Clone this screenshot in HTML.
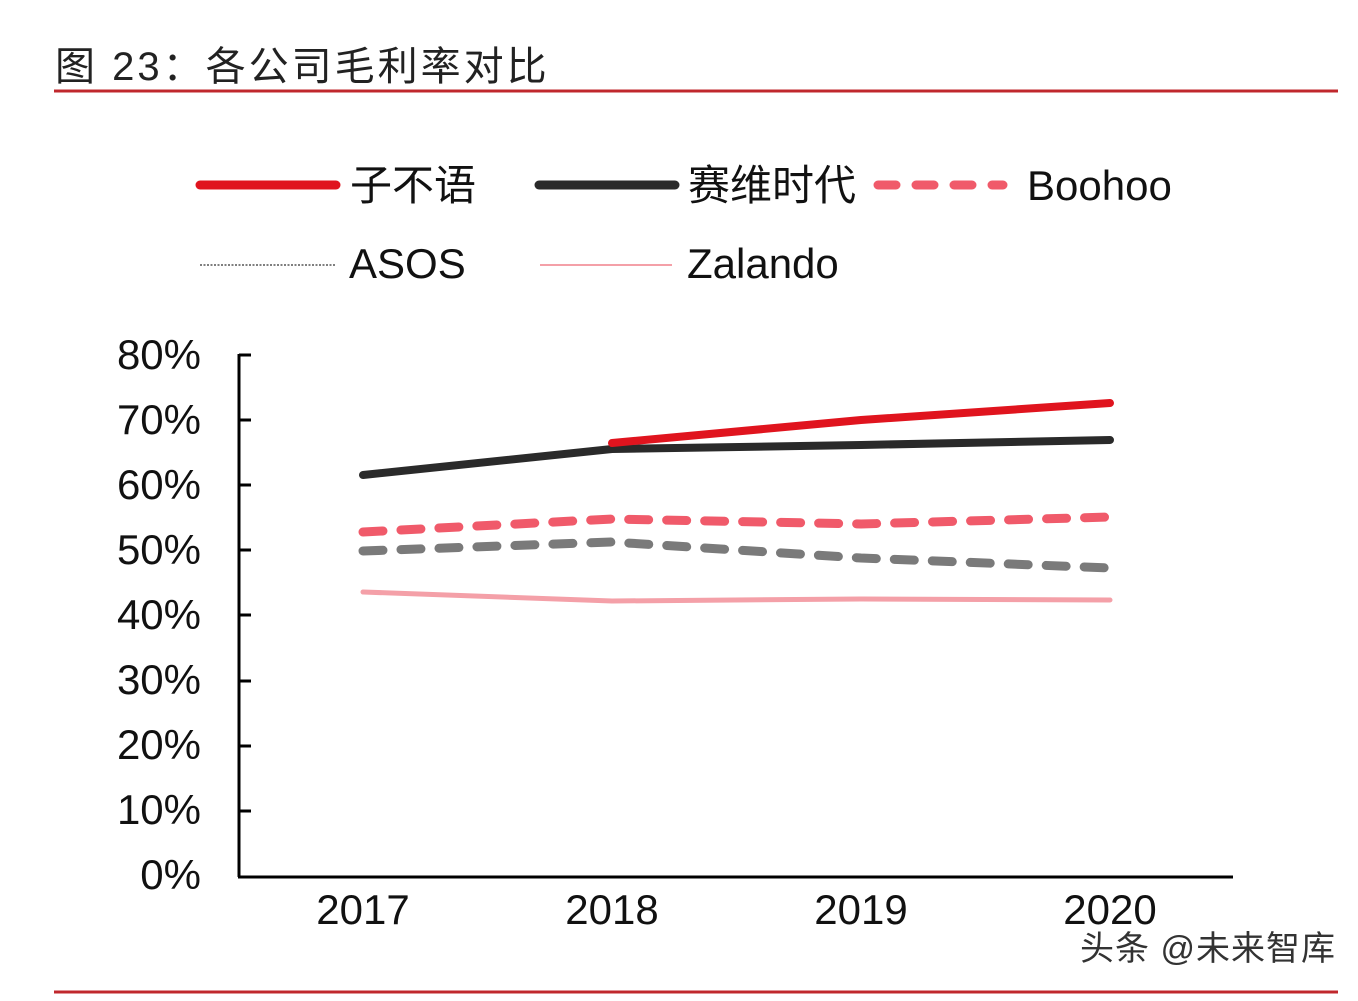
<!DOCTYPE html>
<html><head><meta charset="utf-8"><style>
body{margin:0;background:#fff;}
svg text{font-family:"Liberation Sans","Noto Sans CJK SC",sans-serif;}
</style></head><body>
<svg width="1358" height="996" viewBox="0 0 1358 996" xmlns="http://www.w3.org/2000/svg">
<rect width="1358" height="996" fill="#fff"/>
<text x="55" y="80" font-size="40" letter-spacing="3" fill="#222">图 23：各公司毛利率对比</text>
<line x1="54" y1="91" x2="1338" y2="91" stroke="#c0282d" stroke-width="3"/>
<line x1="54" y1="992" x2="1338" y2="992" stroke="#c0282d" stroke-width="3"/>
<!-- legend -->
<line x1="200" y1="185" x2="336" y2="185" stroke="#e0141e" stroke-width="9" stroke-linecap="round"/>
<text x="350" y="200" font-size="42" fill="#111">子不语</text>
<line x1="539" y1="185" x2="675" y2="185" stroke="#2a2a2a" stroke-width="9" stroke-linecap="round"/>
<text x="688" y="200" font-size="42" fill="#111">赛维时代</text>
<line x1="878" y1="185" x2="1003" y2="185" stroke="#f05a6a" stroke-width="9" stroke-linecap="round" stroke-dasharray="18 20"/>
<text x="1027" y="200" font-size="42" fill="#111">Boohoo</text>
<line x1="200" y1="265" x2="335" y2="265" stroke="#555" stroke-width="1.5" stroke-dasharray="2 1.5"/>
<text x="349" y="278" font-size="42" fill="#111">ASOS</text>
<line x1="540" y1="265" x2="672" y2="265" stroke="#f4a0a8" stroke-width="2"/>
<text x="687" y="278" font-size="42" fill="#111">Zalando</text>
<!-- axes -->
<g stroke="#000" stroke-width="3">
<line x1="239" y1="354" x2="239" y2="877"/>
<line x1="238" y1="877" x2="1233" y2="877"/>
<line x1="239" y1="355" x2="251" y2="355"/>
<line x1="239" y1="420" x2="251" y2="420"/>
<line x1="239" y1="485" x2="251" y2="485"/>
<line x1="239" y1="550" x2="251" y2="550"/>
<line x1="239" y1="615" x2="251" y2="615"/>
<line x1="239" y1="681" x2="251" y2="681"/>
<line x1="239" y1="746" x2="251" y2="746"/>
<line x1="239" y1="811" x2="251" y2="811"/>
</g>
<g font-size="42" fill="#111" text-anchor="end">
<text x="201" y="369">80%</text>
<text x="201" y="434">70%</text>
<text x="201" y="499">60%</text>
<text x="201" y="564">50%</text>
<text x="201" y="629">40%</text>
<text x="201" y="694">30%</text>
<text x="201" y="759">20%</text>
<text x="201" y="824">10%</text>
<text x="201" y="889">0%</text>
</g>
<g font-size="42" fill="#111" text-anchor="middle">
<text x="363" y="924">2017</text>
<text x="612" y="924">2018</text>
<text x="861" y="924">2019</text>
<text x="1110" y="924">2020</text>
</g>
<!-- series -->
<polyline points="363,592 612,601 861,599 1110,600" fill="none" stroke="#f4a0a8" stroke-width="5" stroke-linecap="round"/>
<polyline points="363,551 612,542 861,558 1110,568" fill="none" stroke="#7a7a7a" stroke-width="9" stroke-dasharray="20 18" stroke-linecap="round"/>
<polyline points="363,532 612,519 861,524 1110,517" fill="none" stroke="#f05a6a" stroke-width="9" stroke-dasharray="20 18" stroke-linecap="round"/>
<polyline points="363,475 612,449 861,445 1110,440" fill="none" stroke="#2a2a2a" stroke-width="8" stroke-linecap="round"/>
<polyline points="612,443 861,420 1110,403" fill="none" stroke="#e0141e" stroke-width="8" stroke-linecap="round"/>
<text x="1080" y="960" font-size="34" letter-spacing="1" fill="#333">头条 @未来智库</text>
</svg>
</body></html>
